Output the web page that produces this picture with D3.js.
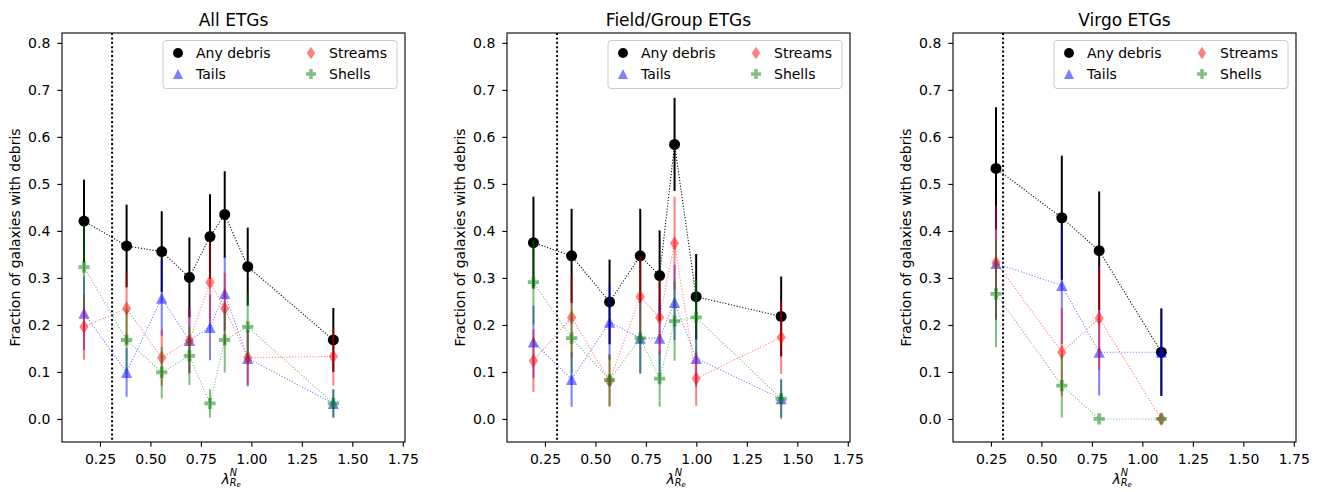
<!DOCTYPE html>
<html>
<head>
<meta charset="utf-8">
<script src="https://cdn.jsdelivr.net/npm/d3@7/dist/d3.min.js"></script>
<style>
	body{margin:0;background:#ffffff;}
	svg{display:block;font-family:"DejaVu Sans",sans-serif;}
</style>
</head>
<body>
<div id="figwrap"></div>
<script>
//chart values
var panelTitles = ["All ETGs", "Field/Group ETGs", "Virgo ETGs"];
var seriesNames = ["Any debris", "Tails", "Streams", "Shells"];
var xTickValues = [0.25, 0.50, 0.75, 1.00, 1.25, 1.50, 1.75];
var yTickValues = [0.0, 0.1, 0.2, 0.3, 0.4, 0.5, 0.6, 0.7, 0.8];
var lambdaCut = 0.31;

//all ETGs
var xAll = [0.171, 0.382, 0.556, 0.693, 0.795, 0.868, 0.982, 1.406];
var anyAll = [0.421, 0.368, 0.356, 0.301, 0.388, 0.435, 0.324, 0.168];
var anyAllErr = [0.088, 0.088, 0.086, 0.085, 0.090, 0.092, 0.083, 0.068];
var tailsAll = [0.225, 0.099, 0.257, 0.167, 0.195, 0.267, 0.129, 0.033];
var tailsAllErr = [0.078, 0.052, 0.080, 0.070, 0.070, 0.080, 0.060, 0.030];
var streamsAll = [0.196, 0.235, 0.130, 0.167, 0.291, 0.235, 0.130, 0.133];
var streamsAllErr = [0.070, 0.076, 0.060, 0.070, 0.084, 0.076, 0.058, 0.062];
var shellsAll = [0.323, 0.168, 0.099, 0.134, 0.033, 0.168, 0.196, 0.033];
var shellsAllErr = [0.090, 0.065, 0.055, 0.062, 0.030, 0.069, 0.072, 0.030];

//field/group ETGs
var xField = [0.193, 0.382, 0.570, 0.722, 0.818, 0.892, 0.999, 1.420];
var anyField = [0.375, 0.347, 0.249, 0.347, 0.305, 0.584, 0.260, 0.218];
var anyFieldErr = [0.098, 0.100, 0.090, 0.100, 0.096, 0.099, 0.091, 0.085];
var tailsField = [0.164, 0.084, 0.206, 0.172, 0.172, 0.248, 0.129, 0.043];
var tailsFieldErr = [0.077, 0.058, 0.080, 0.075, 0.075, 0.080, 0.060, 0.040];
var streamsField = [0.124, 0.216, 0.081, 0.260, 0.216, 0.374, 0.086, 0.174];
var streamsFieldErr = [0.067, 0.085, 0.055, 0.084, 0.080, 0.099, 0.058, 0.078];
var shellsField = [0.291, 0.172, 0.083, 0.172, 0.086, 0.208, 0.216, 0.043];
var shellsFieldErr = [0.090, 0.075, 0.055, 0.076, 0.060, 0.084, 0.080, 0.043];

//virgo ETGs
var xVirgo = [0.275, 0.601, 0.786, 1.094];
var anyVirgo = [0.533, 0.428, 0.358, 0.142];
var anyVirgoErr = [0.130, 0.132, 0.126, 0.093];
var tailsVirgo = [0.331, 0.284, 0.142, 0.142];
var tailsVirgoErr = [0.120, 0.124, 0.092, 0.093];
var streamsVirgo = [0.333, 0.142, 0.214, 0.0];
var streamsVirgoErr = [0.121, 0.093, 0.110, 0.0];
var shellsVirgo = [0.266, 0.071, 0.0, 0.0];
var shellsVirgoErr = [0.113, 0.068, 0.0, 0.0];

//global namespace for the figure
debrisfig = {};

(function(){

	var scope = debrisfig;
	var dom = scope.dom = {};

	var W = 1327, H = 492;
	var top = 33, bottom = 442;
	var panelLeft = [62, 507, 953];
	var panelWidth = 343;
	var fontSize = "14px";

	//series looks: black circles, then translucent blue/red/green
	var looks = [
		{color:"#000000", alpha:1, sym:"circle"},
		{color:"#0000ff", alpha:0.5, sym:"triangle"},
		{color:"#ff0000", alpha:0.5, sym:"diamond"},
		{color:"#008000", alpha:0.5, sym:"plus"}
	];

	var panels = [
		{x:xAll, v:[anyAll, tailsAll, streamsAll, shellsAll], e:[anyAllErr, tailsAllErr, streamsAllErr, shellsAllErr]},
		{x:xField, v:[anyField, tailsField, streamsField, shellsField], e:[anyFieldErr, tailsFieldErr, streamsFieldErr, shellsFieldErr]},
		{x:xVirgo, v:[anyVirgo, tailsVirgo, streamsVirgo, shellsVirgo], e:[anyVirgoErr, tailsVirgoErr, streamsVirgoErr, shellsVirgoErr]}
	];

	//marker outlines in pixel units, centred on 0,0
	function symbolPath(kind, k){
		var s = k || 1;
		if(kind==="circle"){
			var r = 5.5*s;
			return "M"+r+",0A"+r+","+r+" 0 1,1 "+(-r)+",0A"+r+","+r+" 0 1,1 "+r+",0Z";
		}
		else if(kind==="triangle"){
			var h = 5.6*s;
			return "M0,"+(-h)+"L"+h+","+h+"L"+(-h)+","+h+"Z";
		}
		else if(kind==="diamond"){
			var a = 7*s, b = 4.6*s;
			return "M0,"+(-a)+"L"+b+",0L0,"+a+"L"+(-b)+",0Z";
		}
		else{
			var p = 5.6*s, t = 1.9*s;
			return "M"+(-t)+","+(-p)+"H"+t+"V"+(-t)+"H"+p+"V"+t+"H"+t+"V"+p+"H"+(-t)+"V"+t+"H"+(-p)+"V"+(-t)+"H"+(-t)+"Z";
		}
	}

	dom.svg = d3.select("#figwrap").append("svg")
		.attr("width", W).attr("height", H)
		.attr("viewBox", "0 0 "+W+" "+H);

	dom.svg.append("rect").attr("width", W).attr("height", H).attr("fill", "#ffffff");

	var yScale = d3.scaleLinear().domain([-0.049, 0.821]).range([bottom, top]);

	panels.forEach(function(pan, pi){

		var left = panelLeft[pi];
		var mid = left+panelWidth/2;
		var xScale = d3.scaleLinear().domain([0.062, 1.761]).range([left, left+panelWidth]);
		var g = dom.svg.append("g").attr("class", "panel");

		//clip so nothing leaks past the frame
		var clipId = "clip"+pi;
		g.append("clipPath").attr("id", clipId).append("rect")
			.attr("x", left).attr("y", top).attr("width", panelWidth).attr("height", bottom-top);

		var plot = g.append("g").attr("clip-path", "url(#"+clipId+")");

		//dotted cut line
		plot.append("line")
			.attr("x1", xScale(lambdaCut)).attr("x2", xScale(lambdaCut))
			.attr("y1", top).attr("y2", bottom)
			.attr("stroke", "#000").attr("stroke-width", 2)
			.attr("stroke-dasharray", "2,2.4");

		pan.v.forEach(function(vals, si){
			var lk = looks[si];
			var pts = vals.map(function(v, i){ return {x:pan.x[i], y:v, e:pan.e[si][i]}; });
			var sg = plot.append("g").attr("class", "series"+si);

			//error bars
			sg.selectAll("line.err").data(pts.filter(function(d){return d.e>0;})).enter().append("line")
				.attr("class", "err")
				.attr("x1", function(d){return xScale(d.x);})
				.attr("x2", function(d){return xScale(d.x);})
				.attr("y1", function(d){return yScale(d.y-d.e);})
				.attr("y2", function(d){return yScale(d.y+d.e);})
				.attr("stroke", lk.color).attr("stroke-opacity", lk.alpha)
				.attr("stroke-width", 2);

			//dotted joining line
			var line = d3.line().x(function(d){return xScale(d.x);}).y(function(d){return yScale(d.y);});
			sg.append("path").datum(pts)
				.attr("d", line)
				.attr("fill", "none")
				.attr("stroke", lk.color).attr("stroke-opacity", lk.alpha)
				.attr("stroke-width", 1.1)
				.attr("stroke-dasharray", "1.1,1.8");

			//markers
			sg.selectAll("path.mk").data(pts).enter().append("path")
				.attr("class", "mk")
				.attr("transform", function(d){return "translate("+xScale(d.x)+","+yScale(d.y)+")";})
				.attr("d", symbolPath(lk.sym))
				.attr("fill", lk.color).attr("fill-opacity", lk.alpha);
		});

		//axes
		var xAxis = d3.axisBottom(xScale).tickValues(xTickValues).tickSize(4.7).tickPadding(7.3)
			.tickFormat(d3.format(".2f"));
		var yAxis = d3.axisLeft(yScale).tickValues(yTickValues).tickSize(4.7).tickPadding(7)
			.tickFormat(d3.format(".1f"));

		var gx = g.append("g").attr("transform", "translate(0,"+bottom+")").call(xAxis);
		var gy = g.append("g").attr("transform", "translate("+left+",0)").call(yAxis);
		[gx, gy].forEach(function(ax){
			ax.select(".domain").remove();
			ax.selectAll(".tick line").attr("stroke", "#000").attr("stroke-width", 1.1);
			ax.selectAll(".tick text").attr("fill", "#000").style("font-size", fontSize)
				.style("font-family", "'DejaVu Sans', sans-serif");
		});

		//frame
		g.append("rect")
			.attr("x", left).attr("y", top).attr("width", panelWidth).attr("height", bottom-top)
			.attr("fill", "none").attr("stroke", "#000").attr("stroke-width", 1.1);

		//title
		g.append("text")
			.attr("x", mid).attr("y", 26)
			.attr("text-anchor", "middle")
			.style("font-size", "17px")
			.text(panelTitles[pi]);

		//y label
		g.append("text")
			.attr("transform", "translate("+(left-42.5)+","+((top+bottom)/2)+") rotate(-90)")
			.attr("text-anchor", "middle")
			.style("font-size", fontSize)
			.text("Fraction of galaxies with debris");

		//x label, lambda with stacked super/subscripts
		var xl = g.append("text")
			.attr("x", mid-12).attr("y", 484)
			.style("font-size", "14px").style("font-style", "italic");
		xl.append("tspan").text("λ");
		xl.append("tspan").attr("dy", -8).style("font-size", "9.8px").text("N");
		xl.append("tspan").attr("dx", -7.4).attr("dy", 9.5).style("font-size", "9.8px").text("R");
		xl.append("tspan").attr("dy", 1.8).style("font-size", "7px").text("e");

		//legend
		var lgX = left+panelWidth-8-234, lgY = top+7.5;
		var lg = g.append("g").attr("transform", "translate("+lgX+","+lgY+")");
		lg.append("rect").attr("width", 234).attr("height", 48).attr("rx", 3)
			.attr("fill", "#ffffff").attr("fill-opacity", 0.8)
			.attr("stroke", "#cccccc").attr("stroke-width", 1);
		var slots = [[15, 12.5], [15, 33.5], [148, 12.5], [148, 33.5]];
		seriesNames.forEach(function(name, si){
			var lk = looks[si];
			var sx = slots[si][0], sy = slots[si][1];
			lg.append("path")
				.attr("transform", "translate("+sx+","+sy+")")
				.attr("d", symbolPath(lk.sym, 0.9))
				.attr("fill", lk.color).attr("fill-opacity", lk.alpha);
			lg.append("text")
				.attr("x", sx+18).attr("y", sy+5)
				.style("font-size", fontSize)
				.text(name);
		});
	});

})(); //end of closure
</script>
</body>
</html>
